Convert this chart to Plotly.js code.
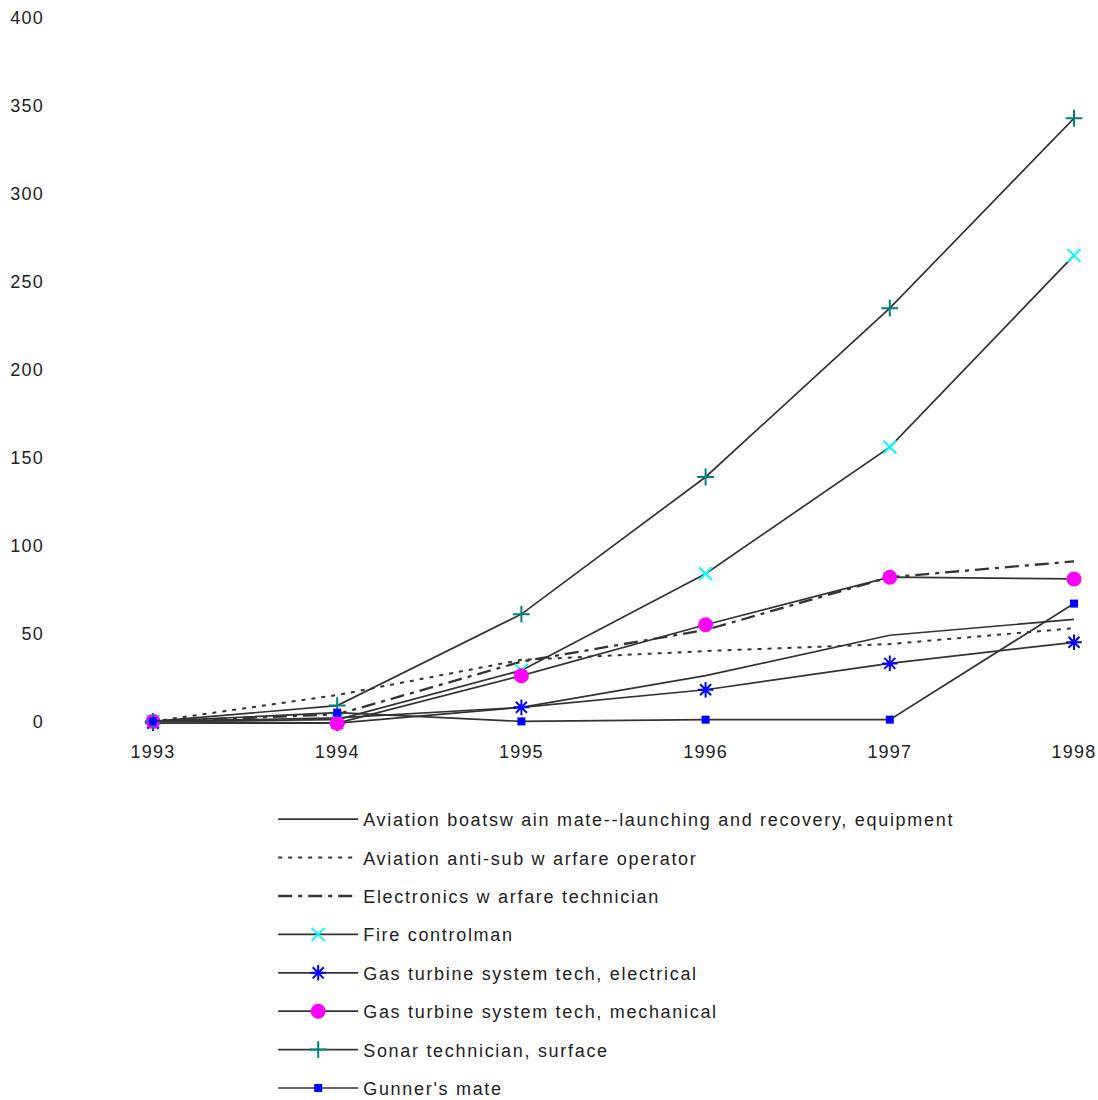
<!DOCTYPE html>
<html>
<head>
<meta charset="utf-8">
<script src="https://cdn.plot.ly/plotly-3.0.1.min.js"></script>
<style>
  html, body { margin: 0; padding: 0; background: #fff; }
  #chart { width: 1098px; height: 1100px; }
  .legendtext { letter-spacing: 1.7px; }
  .xtick text, .ytick text { letter-spacing: 1.2px; }
</style>
</head>
<body>
<div id="chart"></div>
<script>
const years = [1993, 1994, 1995, 1996, 1997, 1998];
const yTicks = [0, 50, 100, 150, 200, 250, 300, 350, 400];

const seriesNames = [
  "Aviation boatsw ain mate--launching and recovery, equipment",
  "Aviation anti-sub w arfare operator",
  "Electronics w arfare technician",
  "Fire controlman",
  "Gas turbine system tech, electrical",
  "Gas turbine system tech, mechanical",
  "Sonar technician, surface",
  "Gunner's mate"
];

const boatswain   = [0, 2, 8, 26, 49, 58];
const antiSub     = [0, 15, 35, 40, 44, 53];
const electronics = [0, 4, 34, 52, 82, 91];
const fireControl = [0, 1, 29, 84, 156, 265];
const gasElec     = [-1, -1, 8, 18, 33, 45];
const gasMech     = [0, -1, 26, 55, 82, 81];
const sonar       = [0, 9, 61, 139, 235, 343];
const gunner      = [0, 5, 0, 1, 1, 67];

const lineColor = '#333333';
const font = 'Liberation Sans, Arial, sans-serif';

function tr(name, y, lineStyle, marker, group) {
  const t = {
    type: 'scatter',
    x: years, y: y, name: name,
    legendgroup: group,
    mode: marker ? 'lines+markers' : 'lines',
    line: Object.assign({color: lineColor, width: 1.7}, lineStyle),
    cliponaxis: false
  };
  if (marker) t.marker = marker;
  return t;
}

const data = [
  tr(seriesNames[0], boatswain, {}, null, 'g1'),
  tr(seriesNames[1], antiSub, {dash: '4px,6px', width: 2}, null, 'g2'),
  tr(seriesNames[2], electronics, {dash: '14px,6px,4px,6px', width: 2.3}, null, 'g3'),
  tr(seriesNames[3], fireControl, {}, {symbol: 'x-thin-open', size: 13, color: '#00FFFF', line: {width: 2, color: '#00FFFF'}}, 'g4'),
  tr(seriesNames[4], gasElec, {}, {symbol: 'asterisk-open', size: 13, color: '#0000FF', line: {width: 2, color: '#0000FF'}}, 'g5'),
  tr(seriesNames[5], gasMech, {}, {symbol: 'circle', size: 15, color: '#FF00FF', line: {width: 0}}, 'g6'),
  tr(seriesNames[6], sonar, {}, {symbol: 'cross-thin-open', size: 12, color: '#008080', line: {width: 2, color: '#008080'}}, 'g7'),
  tr(seriesNames[7], gunner, {}, {symbol: 'square', size: 8, color: '#0000FF', line: {width: 0}}, 'g8')
];

const layout = {
  width: 1098, height: 1100,
  paper_bgcolor: '#ffffff', plot_bgcolor: '#ffffff',
  margin: {l: 153, r: 24, t: 17.5, b: 361, pad: 0, autoexpand: false},
  font: {family: font, size: 18, color: '#222222'},
  showlegend: true,
  xaxis: {
    range: [1993, 1998], tickvals: years, ticktext: years.map(String),
    showgrid: false, zeroline: false, showline: false, ticks: '',
    tickfont: {family: font, size: 18, color: '#222222'}
  },
  yaxis: {
    range: [-10, 400], tickvals: yTicks,
    showgrid: false, zeroline: false, showline: false, ticks: '',
    ticklabelstandoff: 108,
    tickfont: {family: font, size: 18, color: '#222222'}
  },
  legend: {
    x: 0.1305, xanchor: 'left', y: -0.086, yanchor: 'top',
    orientation: 'v', bgcolor: 'rgba(0,0,0,0)',
    font: {family: font, size: 18, color: '#222222'},
    itemwidth: 80, tracegroupgap: 12, traceorder: 'grouped'
  }
};

Plotly.newPlot('chart', data, layout, {displayModeBar: false, staticPlot: true});
</script>
</body>
</html>
